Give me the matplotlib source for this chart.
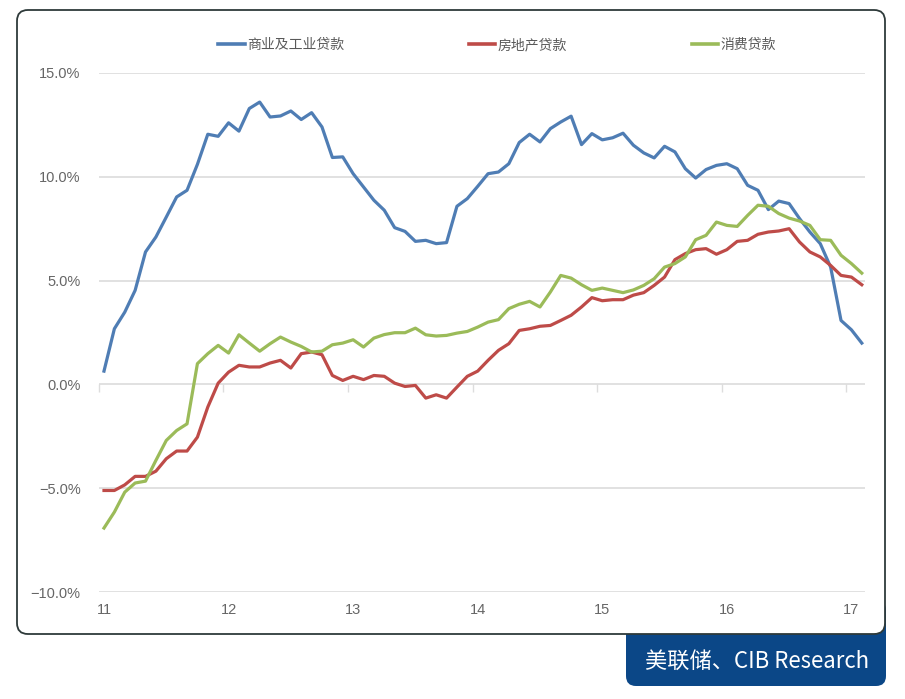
import numpy as np
import matplotlib
matplotlib.use("Agg")
import matplotlib.pyplot as plt
from matplotlib.patches import FancyBboxPatch

# ---------------- data (monthly, Jan 2011 - Feb 2017, % y/y) ----------------
year_labels = ["11", "12", "13", "14", "15", "16", "17"]
series_names = ["商业及工业贷款", "房地产贷款", "消费贷款"]

ci_loans = [
    0.64, 2.68, 3.48, 4.53, 6.38, 7.10, 8.06, 9.03, 9.35, 10.60, 12.05, 11.95,
    12.60, 12.20, 13.29, 13.60, 12.88, 12.93, 13.17, 12.76, 13.09, 12.40, 10.93, 10.96,
    10.15, 9.51, 8.87, 8.39, 7.55, 7.37, 6.89, 6.94, 6.78, 6.83, 8.58, 8.95,
    9.54, 10.15, 10.23, 10.63, 11.65, 12.05, 11.68, 12.32, 12.64, 12.92, 11.55, 12.08,
    11.78, 11.88, 12.10, 11.52, 11.15, 10.91, 11.47, 11.20, 10.39, 9.94, 10.35, 10.55,
    10.63, 10.39, 9.59, 9.35, 8.42, 8.83, 8.71, 7.99, 7.34, 6.78, 5.65, 3.08,
    2.63, 1.99,
]
re_loans = [
    -5.11, -5.11, -4.84, -4.43, -4.43, -4.18, -3.58, -3.21, -3.21, -2.54, -1.09, 0.06,
    0.59, 0.92, 0.84, 0.84, 1.03, 1.16, 0.79, 1.48, 1.56, 1.43, 0.43, 0.19,
    0.39, 0.23, 0.43, 0.39, 0.06, -0.10, -0.05, -0.66, -0.50, -0.66, -0.13, 0.39,
    0.64, 1.16, 1.64, 1.96, 2.60, 2.68, 2.80, 2.84, 3.08, 3.33, 3.73, 4.18,
    4.03, 4.08, 4.08, 4.30, 4.42, 4.77, 5.17, 6.01, 6.30, 6.49, 6.54, 6.27,
    6.49, 6.89, 6.94, 7.23, 7.34, 7.39, 7.50, 6.86, 6.38, 6.14, 5.73, 5.25,
    5.17, 4.80,
]
consumer_loans = [
    -6.92, -6.15, -5.19, -4.75, -4.66, -3.66, -2.70, -2.22, -1.90, 1.00, 1.48, 1.88,
    1.51, 2.39, 1.99, 1.60, 1.96, 2.28, 2.04, 1.83, 1.56, 1.60, 1.91, 1.99,
    2.15, 1.80, 2.23, 2.40, 2.49, 2.49, 2.71, 2.39, 2.33, 2.36, 2.47, 2.55,
    2.76, 3.00, 3.12, 3.65, 3.86, 4.00, 3.73, 4.45, 5.25, 5.12, 4.80, 4.53,
    4.64, 4.53, 4.42, 4.55, 4.77, 5.09, 5.65, 5.82, 6.14, 6.97, 7.18, 7.82,
    7.66, 7.61, 8.14, 8.63, 8.58, 8.23, 8.01, 7.87, 7.66, 6.97, 6.94, 6.22,
    5.82, 5.36,
]
y_ticks = [-10, -5, 0, 5, 10, 15]

colors = ["#4F7DB4", "#BE4B48", "#9BBB59"]

# ---------------- figure ----------------
W, H = 905, 699
fig = plt.figure(figsize=(W / 100, H / 100), dpi=100)
fig.patch.set_facecolor("white")


def px_box(x0, y0, x1, y1):
    """pixel box (top-left origin) -> figure fraction (x, y, w, h)"""
    return x0 / W, 1 - y1 / H, (x1 - x0) / W, (y1 - y0) / H


# blue source box (behind)
bx, by, bw, bh = px_box(626, 600, 886, 686)
blue_box = FancyBboxPatch((bx, by), bw, bh, transform=fig.transFigure,
                          boxstyle="round,pad=0,rounding_size=0.011",
                          facecolor="#0B4787", edgecolor="none", zorder=-3,
                          mutation_aspect=W / H)
fig.patches.append(blue_box)

# white panel with dark border
px, py, pw, ph = px_box(17, 10, 885, 634)
panel = FancyBboxPatch((px, py), pw, ph, transform=fig.transFigure,
                       boxstyle="round,pad=0,rounding_size=0.012",
                       facecolor="white", edgecolor="#2E3A3A", linewidth=1.3,
                       zorder=-2, mutation_aspect=W / H)
fig.patches.append(panel)

fig.text(757 / W, 1 - 661 / H, "美联储、CIB Research", color="white",
         fontsize=16, family=["Noto Sans CJK SC", "DejaVu Sans"],
         ha="center", va="center")

# axes
x_left_px, x_right_px = 98.8, 864.9
ax = fig.add_axes([x_left_px / W, 1 - 592 / H, (x_right_px - x_left_px) / W, (592 - 73) / H])
ax.set_facecolor("none")

months = np.arange(len(ci_loans))
for vals, name, c in zip([ci_loans, re_loans, consumer_loans], series_names, colors):
    ax.plot(months, vals, color=c, lw=2.3, label=name, solid_joinstyle="round", zorder=3)

ax.set_xlim(-0.5, 73.3)
ax.set_ylim(-10, 15)
ax.set_yticks(y_ticks)
ax.set_yticklabels([f"{v:.1f}%".replace("-", "\u2212") for v in y_ticks])
ax.set_xticks(np.arange(len(year_labels)) * 12)
ax.set_xticklabels(year_labels)
ax.grid(axis="y", color="#D9D9D9", lw=1.1)
ax.set_axisbelow(True)
for s in ax.spines.values():
    s.set_visible(False)
ax.tick_params(axis="both", length=0, colors="#666666", labelsize=10.5)
ax.tick_params(axis="y", pad=13)
ax.tick_params(axis="x", pad=8)
for lab in ax.get_xticklabels() + ax.get_yticklabels():
    lab.set_family(["Liberation Sans", "DejaVu Sans"])

# small tick marks on the zero line
sec = ax.secondary_xaxis(10 / 25)
sec.set_xticks(np.arange(len(year_labels)) * 12 - 0.5)
sec.tick_params(axis="x", length=6, color="#DDDDDD", width=1.0, labelbottom=False)
sec.spines["bottom"].set_visible(False)

leg = ax.legend(loc="center", bbox_to_anchor=(497 / W, 1 - 45 / H), bbox_transform=fig.transFigure,
                ncol=3, frameon=False, handlelength=1.9, handletextpad=0.15,
                columnspacing=9.0,
                prop={"family": ["Noto Sans CJK SC", "DejaVu Sans"], "size": 10})
for t in leg.get_texts():
    t.set_color("#595959")
for l in leg.get_lines():
    l.set_linewidth(2.6)

fig.savefig("out.png", dpi=100, facecolor="white")
